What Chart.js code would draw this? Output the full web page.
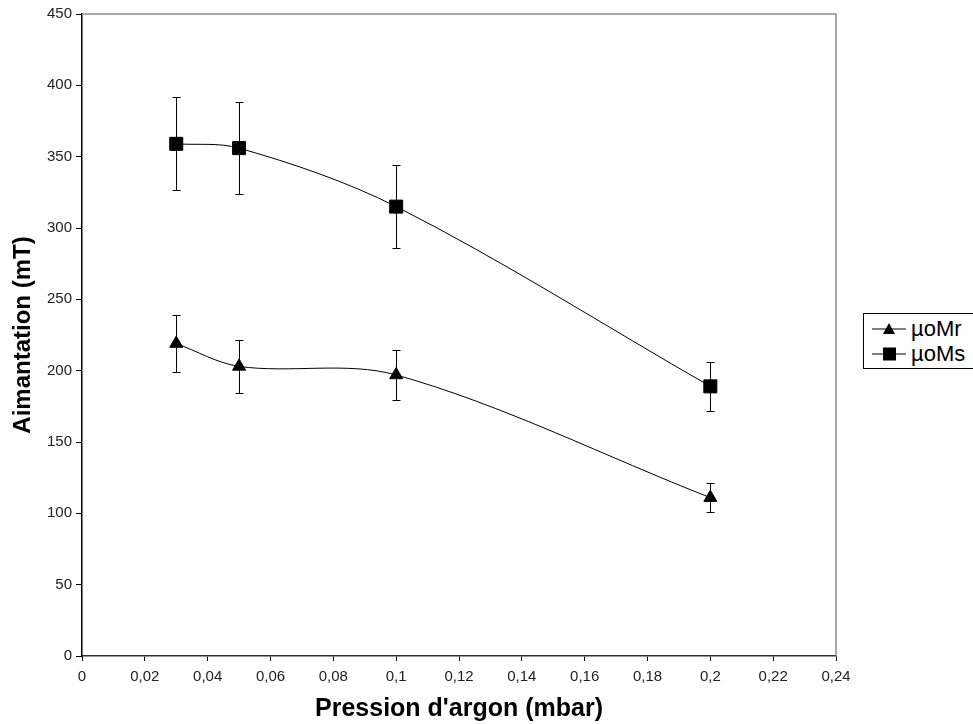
<!DOCTYPE html>
<html>
<head>
<meta charset="utf-8">
<script src="https://cdn.jsdelivr.net/npm/chart.js@4"></script>
<style>
html, body { margin: 0; padding: 0; background: #fff; }
#wrap { position: relative; width: 973px; height: 724px; overflow: hidden; }
#legende {
  position: absolute; left: 863px; top: 313px; width: 130px;
  border: 1px solid #000; background: #fff;
  font-family: Arial, "Liberation Sans", sans-serif; font-size: 22px; color: #000;
  padding: 2px 0 2px 8px;
}
.item { display: flex; align-items: center; height: 25px; }
.item svg { margin-right: 5px; }
</style>
</head>
<body>
<div id="wrap">
  <canvas id="chart" width="973" height="724"></canvas>
  <div id="legende"></div>
</div>
<script>
// valeurs
const pression = [0.03, 0.05, 0.1, 0.2];
const muoMr = [219, 203, 197, 111];
const erreurMr = [20, 18.5, 17.5, 10];
const muoMs = [359, 356, 315, 189];
const erreurMs = [32.5, 32, 29, 17];

const xTickValeurs = [0, 0.02, 0.04, 0.06, 0.08, 0.1, 0.12, 0.14, 0.16, 0.18, 0.2, 0.22, 0.24];
const xTickLabels = ['0', '0,02', '0,04', '0,06', '0,08', '0,1', '0,12', '0,14', '0,16', '0,18', '0,2', '0,22', '0,24'];
const yTicks = [0, 50, 100, 150, 200, 250, 300, 350, 400, 450];

const police = 'Arial, "Liberation Sans", sans-serif';

const barresErreur = {
  id: 'barresErreur',
  beforeDatasetsDraw(chart) {
    const { ctx, scales: { x, y } } = chart;
    ctx.save();
    ctx.strokeStyle = '#000';
    ctx.lineWidth = 1;
    chart.data.datasets.forEach(ds => {
      ds.data.forEach((p, i) => {
        const px = Math.round(x.getPixelForValue(p.x)) + 0.5;
        const haut = Math.round(y.getPixelForValue(p.y + ds.erreurs[i])) + 0.5;
        const bas = Math.round(y.getPixelForValue(p.y - ds.erreurs[i])) + 0.5;
        ctx.beginPath();
        ctx.moveTo(px, haut); ctx.lineTo(px, bas);
        ctx.moveTo(px - 4, haut); ctx.lineTo(px + 4, haut);
        ctx.moveTo(px - 4, bas); ctx.lineTo(px + 4, bas);
        ctx.stroke();
      });
    });
    ctx.restore();
  }
};

const cadre = {
  id: 'cadre',
  beforeDatasetsDraw(chart) {
    const { ctx, chartArea: a } = chart;
    ctx.save();
    ctx.strokeStyle = '#8c8c8c';
    ctx.lineWidth = 1.5;
    ctx.beginPath();
    ctx.moveTo(a.left, a.top);
    ctx.lineTo(a.right, a.top);
    ctx.lineTo(a.right, a.bottom);
    ctx.stroke();
    ctx.restore();
  }
};

function serie(vals) {
  return pression.map((x, i) => ({ x: x, y: vals[i] }));
}

const ctx = document.getElementById('chart').getContext('2d');
const chart = new Chart(ctx, {
  type: 'scatter',
  data: {
    datasets: [{
      label: 'µoMr',
      data: serie(muoMr),
      erreurs: erreurMr,
      showLine: true,
      tension: 0.33,
      borderColor: '#000',
      borderWidth: 1,
      pointStyle: 'triangle',
      pointRadius: 7.5,
      pointBackgroundColor: '#000',
      pointBorderColor: '#000',
      pointBorderWidth: 1
    }, {
      label: 'µoMs',
      data: serie(muoMs),
      erreurs: erreurMs,
      showLine: true,
      tension: 0.33,
      borderColor: '#000',
      borderWidth: 1,
      pointStyle: 'rect',
      pointRadius: 9.2,
      pointBackgroundColor: '#000',
      pointBorderColor: '#000',
      pointBorderWidth: 1
    }]
  },
  options: {
    responsive: false,
    animation: false,
    layout: { padding: { top: 14, right: 137, left: 0, bottom: 0 } },
    plugins: {
      legend: { display: false },
      tooltip: { enabled: false }
    },
    scales: {
      x: {
        type: 'linear',
        min: 0,
        max: 0.24,
        afterBuildTicks: s => { s.ticks = xTickValeurs.map(v => ({ value: v })); },
        afterFit: s => { s.height = 68; },
        ticks: {
          callback: (v, i) => xTickLabels[i],
          font: { family: police, size: 15 },
          color: '#222',
          padding: 7,
          maxRotation: 0,
          autoSkip: false
        },
        grid: { drawOnChartArea: false, drawTicks: true, tickLength: 5, color: '#000' },
        border: { color: '#333', width: 1.5 },
        title: {
          display: true,
          text: "Pression d'argon (mbar)",
          font: { family: police, size: 25, weight: 'bold' },
          color: '#000',
          padding: { top: 10, bottom: 0 }
        }
      },
      y: {
        min: 0,
        max: 450,
        afterBuildTicks: s => { s.ticks = yTicks.map(v => ({ value: v })); },
        afterFit: s => { s.width = 82; },
        ticks: {
          font: { family: police, size: 15 },
          color: '#222',
          padding: 4
        },
        grid: { drawOnChartArea: false, drawTicks: true, tickLength: 6, color: '#000' },
        border: { color: '#000', width: 1.5 },
        title: {
          display: true,
          text: 'Aimantation (mT)',
          font: { family: police, size: 24, weight: 'bold' },
          color: '#000',
          padding: { top: 9, bottom: 0 }
        }
      }
    }
  },
  plugins: [cadre, barresErreur]
});

// légende à la manière d'Excel : trait + marqueur
const symboles = {
  triangle: '<polygon points="17,2 23,13 11,13" fill="#000"/>',
  rect: '<rect x="11" y="1.5" width="13" height="13" fill="#000"/>'
};
const legende = document.getElementById('legende');
chart.data.datasets.forEach(ds => {
  const div = document.createElement('div');
  div.className = 'item';
  div.innerHTML = '<svg width="34" height="16"><line x1="0" y1="8" x2="34" y2="8" stroke="#000" stroke-width="1"/>' +
    symboles[ds.pointStyle] + '</svg><span>' + ds.label + '</span>';
  legende.appendChild(div);
});
</script>
</body>
</html>
